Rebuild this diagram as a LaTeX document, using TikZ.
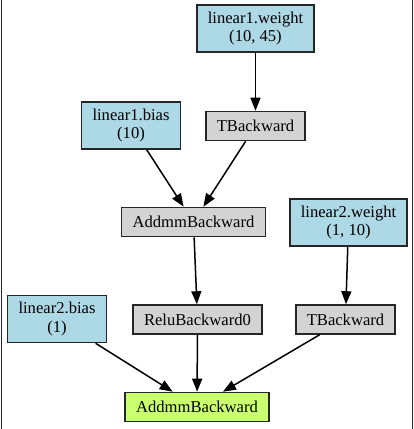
\documentclass[tikz,border=0pt]{standalone}
\usepackage{fontspec}
\setmainfont{Liberation Serif}
\usetikzlibrary{arrows.meta}
\definecolor{paramblue}{HTML}{ADD8E6}
\definecolor{opgray}{HTML}{D3D3D3}
\definecolor{rootgreen}{HTML}{CAFF70}
\tikzset{
  gnode/.style={draw=black!85, line width=1.6pt, rectangle, inner xsep=11pt, inner ysep=0pt,
    align=center, font=\fontsize{16.6}{18.5}\selectfont},
  param/.style={gnode, fill=paramblue, minimum height=47pt},
  op/.style={gnode, fill=opgray, minimum height=29pt},
  root/.style={gnode, fill=rootgreen, minimum height=29pt},
  flow/.style={-{Triangle[length=13pt,width=10pt]}, line width=1.5pt, black}
}
\begin{document}
\begin{tikzpicture}[x=1pt, y=-1pt]
      \useasboundingbox (0,0) rectangle (414,429);
      \draw[line width=1.8pt, black!85] (1.5,0) -- (1.5,429) (412.5,0) -- (412.5,429);
      \draw
        (255.5,28.5) node[param] (w1){linear1.weight\\(10, 45)}
        (131,125.5) node[param] (b1){linear1.bias\\(10)}
        (255.5,126) node[op] (t1){TBackward}
        (193.5,222) node[op] (addmm1){AddmmBackward}
        (348.5,222.5) node[param] (w2){linear2.weight\\(1, 10)}
        (57,319) node[param] (b2){linear2.bias\\(1)}
        (197.5,319.5) node[op] (relu){ReluBackward0}
        (345.5,319.5) node[op] (t2){TBackward}
        (197,407) node[root] (addmm2){AddmmBackward};
      \begin{scope}[flow]
        \draw (w1) to (t1);
        \draw (b1) to (addmm1);
        \draw (t1) to (addmm1);
        \draw (addmm1) to (relu);
        \draw (w2) to (t2);
        \draw (b2) to (addmm2);
        \draw (relu) to (addmm2);
        \draw (t2) to (addmm2);
      \end{scope}
    \end{tikzpicture}
\end{document}
